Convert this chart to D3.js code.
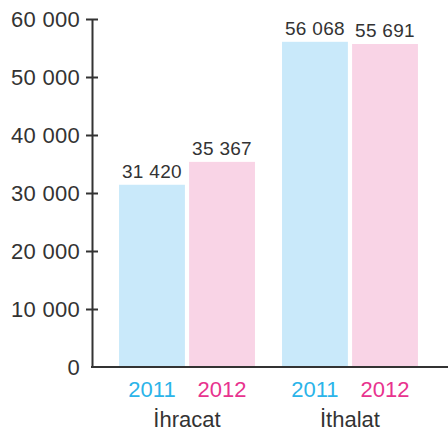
<!DOCTYPE html>
<html>
<head>
<meta charset="utf-8">
<script src="https://cdn.jsdelivr.net/npm/d3@7"></script>
<style>
  body { margin: 0; background: #fff; }
  svg text { font-family: "Liberation Sans", Arial, sans-serif; }
</style>
</head>
<body>
<div id="chart"></div>
<script>
// Chart data
const groups = ["İhracat", "İthalat"];
const years = ["2011", "2012"];
const values2011 = [31420, 56068];
const values2012 = [35367, 55691];
const yTicks = [0, 10000, 20000, 30000, 40000, 50000, 60000];

const width = 448;
const height = 434;
const axisX = 92;

const barColors = { "2011": "#c9e9fa", "2012": "#f9d4e6" };
const yearColors = { "2011": "#2bb4e9", "2012": "#e8338e" };

const svg = d3.select("#chart")
    .append("svg")
    .attr("width", width)
    .attr("height", height);

// Space as thousands separator
const fmt = d3.formatLocale({ decimal: ",", thousands: " ", grouping: [3], currency: ["", ""] }).format(",");

const y = d3.scaleLinear().domain([0, 60000]).range([367, 19]);

const x0 = d3.scaleBand()
    .domain(groups)
    .range([axisX, 445])
    .paddingInner(0.166)
    .paddingOuter(0.166);

const x1 = d3.scaleBand()
    .domain(years)
    .range([0, x0.bandwidth()])
    .paddingInner(0.06);

// Rows built from the arrays
const rows = groups.map((g, i) => ({
    group: g,
    bars: [
        { year: "2011", value: values2011[i] },
        { year: "2012", value: values2012[i] }
    ]
}));

const gGroups = svg.selectAll("g.group")
    .data(rows)
    .join("g")
    .attr("class", "group")
    .attr("transform", d => `translate(${x0(d.group)},0)`);

gGroups.selectAll("rect")
    .data(d => d.bars)
    .join("rect")
    .attr("x", d => x1(d.year))
    .attr("y", d => y(d.value))
    .attr("width", x1.bandwidth())
    .attr("height", d => y(0) - y(d.value))
    .attr("fill", d => barColors[d.year]);

// Value labels above bars
gGroups.selectAll("text.value")
    .data(d => d.bars)
    .join("text")
    .attr("class", "value")
    .attr("x", d => x1(d.year) + x1.bandwidth() / 2)
    .attr("y", d => y(d.value) - 7)
    .attr("text-anchor", "middle")
    .attr("font-size", "19px")
    .attr("letter-spacing", "0.3px")
    .attr("fill", "#333")
    .text(d => fmt(d.value));

// Year labels
gGroups.selectAll("text.year")
    .data(d => d.bars)
    .join("text")
    .attr("class", "year")
    .attr("x", d => x1(d.year) + x1.bandwidth() / 2)
    .attr("y", 397)
    .attr("text-anchor", "middle")
    .attr("font-size", "22px")
    .attr("fill", d => yearColors[d.year])
    .text(d => d.year);

// Category labels
gGroups.append("text")
    .attr("x", x0.bandwidth() / 2)
    .attr("y", 427)
    .attr("text-anchor", "middle")
    .attr("font-size", "22px")
    .attr("fill", "#333")
    .text(d => d.group);

// Y axis
const yAxis = svg.append("g")
    .attr("transform", `translate(${axisX},0)`)
    .call(d3.axisLeft(y).tickValues(yTicks).tickFormat(fmt).tickSizeOuter(0).tickSizeInner(6).tickPadding(6));

yAxis.select(".domain").attr("stroke", "#333").attr("stroke-width", 2);
yAxis.selectAll(".tick line")
    .attr("x1", 6)
    .attr("stroke", "#333")
    .attr("stroke-width", 2)
    .filter(d => d === 0).remove();
yAxis.selectAll(".tick text")
    .attr("font-size", "22px")
    .attr("letter-spacing", "0.3px")
    .attr("fill", "#333");

// Baseline
svg.append("line")
    .attr("x1", axisX - 1)
    .attr("x2", width)
    .attr("y1", y(0))
    .attr("y2", y(0))
    .attr("stroke", "#333")
    .attr("stroke-width", 2);
</script>
</body>
</html>
